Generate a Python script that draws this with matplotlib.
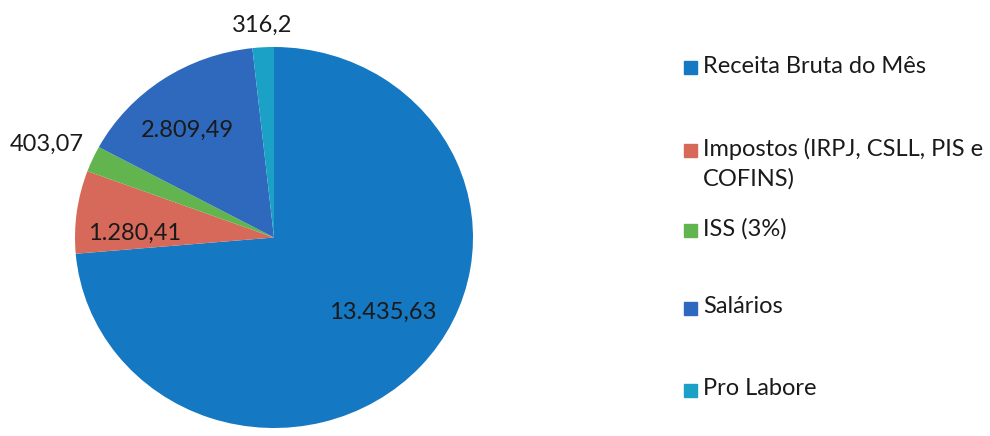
import numpy as np
import matplotlib
matplotlib.use("Agg")
import matplotlib.pyplot as plt
from matplotlib.patches import Rectangle

plt.rcParams['font.family'] = ['Lato', 'DejaVu Sans']

categorias = ["Receita Bruta do Mês", "Impostos (IRPJ, CSLL, PIS e\nCOFINS)",
              "ISS (3%)", "Salários", "Pro Labore"]
valores = np.array([13435.63, 1280.41, 403.07, 2809.49, 316.2])
rotulos = ["13.435,63", "1.280,41", "403,07", "2.809,49", "316,2"]
cores = ["#1478C2", "#D7695B", "#62B44E", "#2F69BD", "#1BA0C6"]

# label placement: radial distance and angle shift (degrees) from wedge middle
lab_r = [0.673, 0.699, 1.24, 0.714, 1.117]
lab_dt = [7.0, 5.8, 1.2, 3.8, 0.0]

W, H = 990, 436
fig = plt.figure(figsize=(W / 100, H / 100), dpi=100)
ax = fig.add_axes([75 / W, 1 - 428 / H, 398 / W, 381 / H])

wedges, _ = ax.pie(valores, colors=cores, startangle=90, counterclock=False,
                   wedgeprops=dict(linewidth=0))
ax.set_aspect('auto')
ax.set_xlim(-1, 1)
ax.set_ylim(-1, 1)
ax.axis('off')

for w, txt, r, dt in zip(wedges, rotulos, lab_r, lab_dt):
    ang = np.deg2rad((w.theta1 + w.theta2) / 2 + dt)
    ax.text(r * np.cos(ang), r * np.sin(ang), txt, ha='center', va='center',
            fontsize=17, color='#1a1a1a', clip_on=False)

# legend drawn by hand (first line of each entry aligned with its marker)
leg_y = [68, 150, 230, 308, 390]
for cor, cat, y in zip(cores, categorias, leg_y):
    fig.patches.append(Rectangle((684 / W, 1 - (y + 6.5) / H), 13 / W, 13 / H,
                                 transform=fig.transFigure, color=cor))
    fig.text(703 / W, 1 - (y - 12) / H, cat, ha='left', va='top',
             fontsize=17, color='#1a1a1a', linespacing=1.45)

fig.savefig('out.png', dpi=100)
